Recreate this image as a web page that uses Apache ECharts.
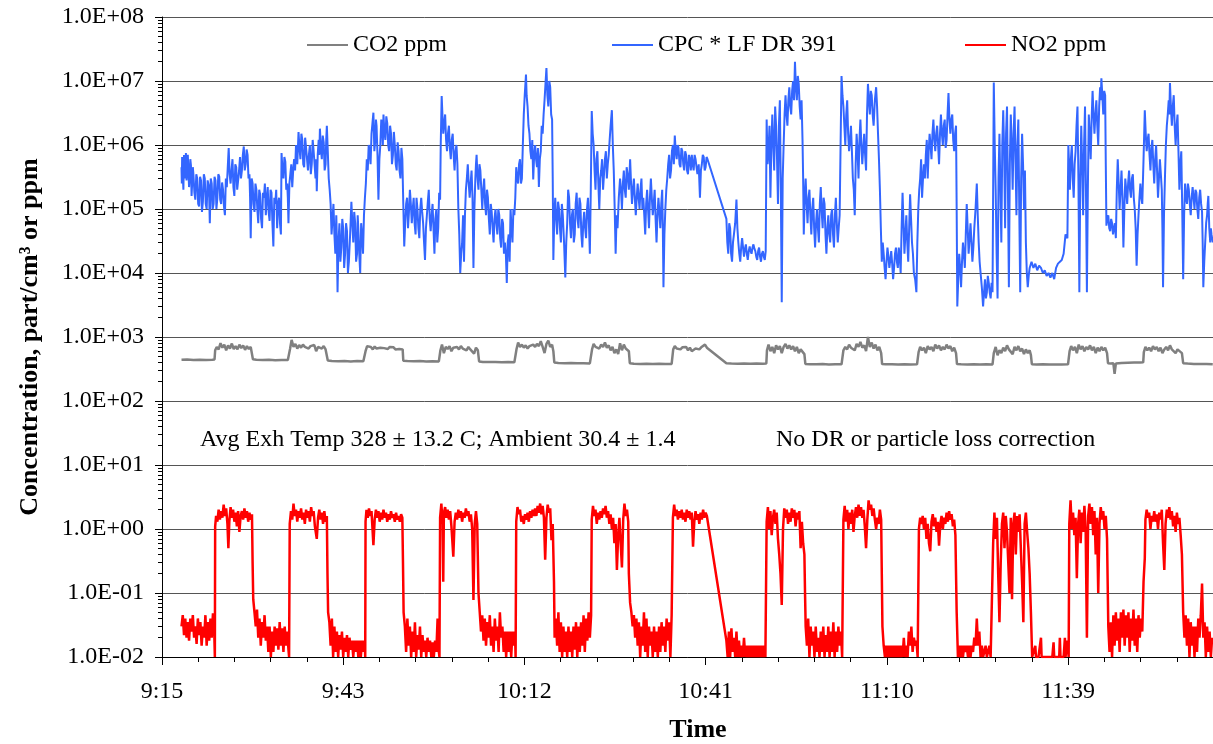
<!DOCTYPE html>
<html><head><meta charset="utf-8">
<script src="https://cdn.jsdelivr.net/npm/echarts@6/dist/echarts.min.js"></script>
<style>html,body{margin:0;padding:0;background:#fff}#c{width:1213px;height:744px}</style>
</head><body><div id="c"></div>
<script>
// ---- axis tick labels ----
const xTickLabels = ['9:15','9:43','10:12','10:41','11:10','11:39'];
const xMajorStep = 28.8;      // minutes between labelled ticks
const xMax = 167.04;          // minutes after 9:15 at right edge
const yTickLabels = ['1.0E-02','1.0E-01','1.0E+00','1.0E+01','1.0E+02','1.0E+03','1.0E+04','1.0E+05','1.0E+06','1.0E+07','1.0E+08'];
const seriesNames = ['CO2 ppm','CPC * LF DR 391','NO2 ppm'];

// ---- data: [minutes after 9:15, value] ----
const co2 = [[3.1,440],[4.0,445],[5.0,438],[6.0,442],[7.0,436],[8.0,440],[8.35,445],[8.45,620],
[8.7,700],[9.0,640],[9.3,800],[9.6,680],[9.9,760],[10.2,620],[10.5,740],[10.8,660],[11.1,790],[11.4,650],[11.7,720],[12.0,640],[12.3,760],[12.6,670],[12.9,740],[13.2,630],[13.5,720],[13.8,650],[14.1,700],[14.35,660],[14.45,450],
[15.0,440],[16.0,436],[17.0,440],[18.0,434],[19.0,438],[20.0,436],[20.25,440],[20.35,650],
[20.6,900],[20.9,700],[21.2,780],[21.5,660],[21.8,750],[22.1,680],[22.4,760],[22.7,700],[23.0,740],[23.3,660],[23.6,720],[23.9,680],[24.2,750],[24.5,600],[24.8,700],[25.1,740],[25.4,660],[25.7,720],[26.0,640],[26.25,680],[26.35,430],
[27.0,422],[28.0,418],[29.0,420],[30.0,416],[31.0,420],[32.0,418],[32.25,422],[32.35,600],
[32.6,720],[32.9,680],[33.2,700],[33.5,640],[33.8,710],[34.1,660],[34.4,700],[34.7,680],[35.0,720],[35.3,670],[35.6,690],[35.9,650],[36.2,700],[36.5,660],[36.8,690],[37.1,640],[37.4,680],[37.7,650],[38.0,670],[38.25,640],[38.35,425],
[39.0,420],[40.0,417],[41.0,420],[42.0,415],[43.0,418],[44.0,416],[44.15,420],[44.25,620],
[44.5,760],[44.8,560],[45.1,700],[45.4,650],[45.7,720],[46.0,600],[46.3,680],[46.6,650],[46.9,700],[47.2,640],[47.5,720],[47.8,660],[48.1,690],[48.4,620],[48.7,700],[49.0,640],[49.3,670],[49.6,550],[49.9,680],[50.2,620],[50.4,415],
[51.0,408],[52.0,405],[53.0,408],[54.0,403],[55.0,406],[56.0,402],[56.25,406],[56.35,650],
[56.6,820],[56.9,700],[57.2,760],[57.5,680],[57.8,740],[58.1,660],[58.4,720],[58.7,680],[59.0,760],[59.3,700],[59.6,780],[59.9,720],[60.2,860],[60.5,700],[60.8,560],[61.1,780],[61.4,880],[61.7,700],[62.0,760],[62.2,600],[62.35,400],
[63.0,392],[64.0,390],[65.0,393],[66.0,388],[67.0,390],[68.0,387],[68.25,392],[68.35,640],
[68.6,780],[68.9,700],[69.2,740],[69.5,660],[69.8,760],[70.1,700],[70.4,820],[70.7,680],[71.0,740],[71.3,620],[71.6,700],[71.9,560],[72.2,640],[72.5,540],[72.8,800],[73.1,620],[73.4,760],[73.7,660],[74.0,700],[74.2,600],[74.35,390],
[75.0,382],[76.0,380],[77.0,383],[78.0,379],[79.0,381],[80.0,378],[81.0,380],[81.15,384],[81.25,640],
[81.5,720],[81.8,660],[82.1,700],[82.4,640],[82.7,690],[83.0,650],[83.3,700],[83.6,620],[83.9,680],[84.2,600],[84.5,560],[84.8,660],[85.1,700],[85.4,640],[85.7,690],[86.0,660],[86.3,760],[86.6,680],[86.8,700],
[89.7,388],[90.5,385],[91.5,383],[92.5,386],[93.5,382],[94.5,385],[95.5,383],[96.05,386],[96.15,620],
[96.4,760],[96.7,600],[97.0,700],[97.3,560],[97.6,740],[97.9,640],[98.2,720],[98.5,560],[98.8,700],[99.1,780],[99.4,660],[99.7,740],[100.0,640],[100.3,720],[100.6,600],[100.9,700],[101.2,560],[101.5,640],[101.8,600],[102.1,540],[102.25,380],
[103.0,376],[104.0,374],[105.0,377],[106.0,373],[107.0,376],[108.0,374],[108.2,378],[108.3,620],
[108.6,700],[108.9,640],[109.2,760],[109.5,680],[109.8,720],[110.1,620],[110.4,780],[110.7,700],[111.0,840],[111.3,680],[111.6,740],[111.9,600],[112.2,1000],[112.5,700],[112.8,820],[113.1,660],[113.4,760],[113.7,620],[114.0,700],[114.3,560],[114.45,378],
[115.0,374],[116.0,376],[117.0,373],[118.0,375],[119.0,372],[120.0,375],[120.15,378],[120.25,580],
[120.5,700],[120.8,620],[121.1,680],[121.4,560],[121.7,720],[122.0,640],[122.3,700],[122.6,600],[122.9,760],[123.2,660],[123.5,740],[123.8,620],[124.1,700],[124.4,640],[124.7,760],[125.0,660],[125.3,720],[125.6,600],[125.9,680],[126.2,560],[126.35,378],
[127.0,374],[128.0,373],[129.0,376],[130.0,372],[131.0,374],[132.0,373],[132.1,376],[132.2,560],
[132.5,700],[132.8,520],[133.1,620],[133.4,560],[133.7,680],[134.0,600],[134.3,740],[134.6,640],[134.9,680],[135.2,540],[135.5,700],[135.8,620],[136.1,720],[136.4,600],[136.7,660],[137.0,540],[137.3,640],[137.6,560],[137.9,620],[138.1,520],[138.25,376],
[139.0,372],[140.0,374],[141.0,371],[142.0,373],[143.0,372],[144.0,375],[144.15,378],[144.25,600],
[144.5,720],[144.8,620],[145.1,700],[145.4,560],[145.7,760],[146.0,640],[146.3,720],[146.6,600],[146.9,700],[147.2,640],[147.5,740],[147.8,620],[148.1,700],[148.4,560],[148.7,680],[149.0,600],[149.3,700],[149.6,620],[149.9,680],[150.2,560],[150.35,390],
[150.8,385],[151.2,390],[151.4,265],[151.6,385],[152.5,392],[153.5,395],[154.5,398],[155.5,400],[155.95,402],[156.05,580],
[156.3,700],[156.6,620],[156.9,680],[157.2,600],[157.5,720],[157.8,640],[158.1,700],[158.4,600],[158.7,680],[159.0,560],[159.3,640],[159.6,700],[159.9,620],[160.2,740],[160.5,640],[160.8,680],[161.1,560],[161.4,640],[161.7,600],[162.1,560],[162.3,390],
[163.0,384],[164.0,380],[165.0,378],[166.0,380],[167.0,376]];

const cpc = [[3.1,4.5e5],[3.15,2.5e5],[3.2,6.5e5],[3.3,3.5e5],[3.4,2.0e5],[3.5,7.0e5],[3.6,5.5e5],[3.7,3.0e5],[3.8,7.5e5],[3.9,2.8e5],[4.0,4.0e5],[4.1,7.0e5],[4.2,6.8e5],[4.3,2.2e5],[4.4,3.2e5],[4.5,6.0e5],[4.6,4.8e5],[4.7,1.6e5],[4.8,2.6e5],[4.9,4.5e5],[5.0,3.4e5],[5.15,1.8e5],[5.3,1.4e5],[5.45,3.5e5],[5.6,3.0e5],[5.75,1.2e5],[5.9,1.1e5],[6.05,3.2e5],[6.2,2.8e5],[6.35,9.0e4],[6.5,1.3e5],[6.65,3.5e5],[6.8,3.0e5],[6.95,1.2e5],[7.1,1.0e5],[7.25,2.8e5],[7.4,2.4e5],[7.5,1.5e5],[7.6,6.0e4],[7.75,3.0e5],[7.9,2.5e5],[8.05,1.0e5],[8.2,1.2e5],[8.35,3.2e5],[8.5,2.8e5],[8.65,1.0e5],[8.8,1.5e5],[8.95,3.5e5],[9.1,3.2e5],[9.25,1.4e5],[9.4,1.2e5],[9.55,2.6e5],[9.7,2.0e5],[9.85,1.1e5],[10.0,8.0e4],[10.15,3.0e5],[10.3,2.2e5],[10.45,4.5e5],[10.6,9.0e5],[10.75,3.5e5],[10.9,2.5e5],[11.05,4.0e5],[11.2,6.0e5],[11.35,2.2e5],[11.5,1.6e5],[11.65,5.0e5],[11.8,4.5e5],[11.95,2.0e5],[12.1,2.8e5],[12.25,4.0e5],[12.4,6.5e5],[12.55,3.0e5],[12.7,4.0e5],[12.85,7.0e5],[13.0,9.5e5],[13.15,4.0e5],[13.3,5.0e5],[13.45,8.5e5],[13.6,7.0e5],[13.75,3.0e5],[13.9,3.5e5],[14.0,1.5e5],[14.1,3.5e4],[14.25,3.0e5],[14.4,2.5e5],[14.55,1.2e5],[14.7,9.0e4],[14.85,2.5e5],[15.0,2.0e5],[15.15,1.0e5],[15.3,6.0e4],[15.45,2.0e5],[15.6,1.7e5],[15.75,7.0e4],[15.9,5.0e4],[16.05,1.8e5],[16.2,1.5e5],[16.35,2.5e5],[16.5,8.0e4],[16.65,1.5e5],[16.8,2.2e5],[16.95,9.0e4],[17.1,6.5e4],[17.25,2.0e5],[17.4,1.8e5],[17.55,6.0e4],[17.7,2.6e4],[17.85,1.5e5],[18.0,1.2e5],[18.15,2.0e5],[18.3,5.0e4],[18.45,1.2e5],[18.6,1.5e5],[18.75,6.0e4],[18.9,4.0e4],
[19.0,7.5e5],[19.15,4.0e5],[19.3,3.0e5],[19.45,6.5e5],[19.6,5.5e5],[19.75,2.0e5],[19.9,2.5e5],[20.0,1.5e5],[20.1,6.0e4],[20.25,2.5e5],[20.4,3.5e5],[20.55,5.0e5],[20.7,2.2e5],[20.85,4.0e5],[21.0,6.0e5],[21.15,4.0e5],[21.3,1.0e6],[21.5,5.0e5],[21.7,1.6e6],[21.85,9.0e5],[22.0,6.0e5],[22.15,1.5e6],[22.3,1.2e6],[22.45,5.0e5],[22.6,4.5e5],[22.75,1.3e6],[22.9,9.0e5],[23.05,6.0e5],[23.2,4.0e5],[23.35,7.0e5],[23.5,1.0e6],[23.65,3.5e5],[23.8,5.0e5],[23.95,1.2e6],[24.1,8.0e5],[24.25,5.0e5],[24.4,3.0e5],[24.5,6.0e5],[24.6,1.9e5],[24.75,7.0e5],[24.9,1.2e6],[25.0,7.0e5],[25.1,1.8e6],[25.25,9.0e5],[25.4,6.0e5],[25.55,1.4e6],[25.7,1.1e6],[25.85,4.0e5],[26.0,5.0e5],[26.1,1.2e6],[26.2,2.0e6],[26.35,8.0e5],[26.5,3.0e5],[26.65,2.0e5],[26.8,1.2e5],[26.95,4.0e4],[27.1,7.0e4],[27.25,1.2e5],[27.4,4.0e4],[27.55,2.0e4],[27.7,8.0e4],[27.8,3.0e4],[27.9,5.0e3],[28.05,3.0e4],[28.2,6.0e4],[28.35,1.5e4],[28.5,2.5e4],[28.65,7.0e4],[28.8,5.0e4],[28.95,1.2e4],[29.1,2.0e4],[29.25,6.0e4],[29.4,4.5e4],[29.55,1.0e4],[29.7,1.5e4],[29.9,4.0e4],[30.1,1.3e5],[30.25,6.0e4],[30.4,3.0e4],[30.55,9.0e4],[30.7,6.0e4],[30.85,1.5e4],[31.0,2.0e4],[31.1,8.0e4],[31.2,5.0e4],[31.35,2.0e4],[31.5,1.0e4],[31.65,6.0e4],[31.8,4.0e4],[31.95,2.0e4],[32.1,8.0e4],[32.25,1.5e5],
[32.4,2.5e5],[32.55,6.0e5],[32.7,4.0e5],[32.85,1.0e6],[33.0,8.0e5],[33.15,5.0e5],[33.3,1.5e6],[33.45,2.2e6],[33.6,3.2e6],[33.75,8.0e5],[33.9,1.2e6],[34.0,2.5e6],[34.1,2.0e6],[34.25,7.0e5],[34.4,1.4e5],[34.55,6.0e5],[34.7,1.0e6],[34.85,2.5e6],[35.0,2.0e6],[35.1,1.0e6],[35.2,3.0e6],[35.35,1.6e6],[35.5,1.2e6],[35.65,2.8e6],[35.8,2.2e6],[35.95,1.0e6],[36.1,8.0e5],[36.25,2.0e6],[36.4,1.5e6],[36.55,5.0e5],[36.7,7.0e5],[36.85,1.6e6],[37.0,1.0e6],[37.15,5.0e5],[37.3,4.0e5],[37.45,1.1e6],[37.6,8.0e5],[37.75,4.0e5],[37.9,3.0e5],[38.05,9.0e5],[38.2,6.0e5],[38.35,1.2e5],[38.5,2.6e4],[38.65,6.0e4],[38.8,1.2e5],[38.95,1.5e5],[39.1,5.0e4],[39.25,9.0e4],[39.4,2.0e5],[39.55,1.2e5],[39.7,6.0e4],[39.85,1.0e5],[40.0,1.5e5],[40.15,6.0e4],[40.3,4.0e4],[40.45,1.5e5],[40.6,1.0e5],[40.75,5.0e4],[40.9,3.5e4],[41.05,1.0e5],[41.2,1.5e5],[41.35,9.0e4],[41.5,6.0e4],[41.65,3.0e4],[41.8,1.6e4],[41.95,5.0e4],[42.1,8.0e4],[42.25,1.3e5],[42.4,2.0e5],[42.55,7.0e4],[42.7,4.5e4],[42.85,8.0e4],[43.0,1.2e5],[43.15,5.0e4],[43.3,2.0e4],[43.45,7.0e4],[43.6,1.0e5],[43.75,3.0e4],[43.9,5.0e4],[44.05,1.8e5],[44.2,1.4e5],[44.3,1.0e6],
[44.45,5.8e6],[44.6,2.5e6],[44.7,1.5e6],[44.85,2.2e6],[45.0,3.0e6],[45.15,1.2e6],[45.3,8.0e5],[45.45,1.5e6],[45.6,2.0e6],[45.75,9.0e5],[45.9,6.0e5],[46.05,1.2e6],[46.2,1.5e6],[46.35,7.0e5],[46.5,4.0e5],[46.65,8.0e5],[46.8,1.0e6],[46.95,5.0e5],[47.1,1.0e5],[47.25,4.0e4],[47.4,1.0e4],[47.55,2.0e4],[47.7,3.0e4],[47.85,8.0e4],[48.0,1.5e4],[48.15,8.0e4],[48.3,2.0e5],[48.45,3.0e5],[48.6,5.0e5],[48.75,2.5e5],[48.9,1.5e5],[49.05,2.5e5],[49.2,4.0e5],[49.35,1.5e5],[49.5,1.2e4],[49.65,1.0e5],[49.8,3.0e5],[49.9,5.0e5],[50.0,7.0e5],[50.15,3.0e5],[50.3,2.0e5],[50.45,5.0e5],[50.6,4.0e5],[50.75,2.0e5],[50.9,1.0e5],[51.05,2.0e5],[51.2,3.0e5],[51.35,1.2e5],[51.5,8.0e4],[51.65,2.0e5],[51.8,1.5e5],[51.95,7.0e4],[52.1,4.0e4],[52.25,1.2e5],[52.4,9.0e4],[52.55,5.0e4],[52.7,3.0e4],[52.85,7.0e4],[53.0,1.0e5],[53.15,6.0e4],[53.3,4.0e4],[53.45,1.0e5],[53.6,8.0e4],[53.75,3.5e4],[53.9,2.5e4],[54.05,7.0e4],[54.2,6.0e4],[54.35,2.0e4],[54.5,3.0e4],[54.65,2.0e4],[54.8,7.0e3],[54.95,3.0e4],[55.1,4.0e4],[55.25,1.5e4],[55.4,1.0e5],[55.55,5.0e4],[55.7,3.0e4],[55.85,1.0e5],[56.0,8.0e4],[56.15,1.5e5],
[56.3,4.5e5],[56.45,3.0e5],[56.6,2.5e5],[56.75,5.0e5],[56.9,6.0e5],[57.05,2.5e5],[57.2,3.0e5],[57.35,1.0e6],[57.5,3.0e6],[57.65,6.0e6],[57.85,1.26e7],[57.95,6.0e6],[58.1,4.0e6],[58.25,2.0e6],[58.4,1.5e6],[58.55,8.0e5],[58.7,6.0e5],[58.85,1.2e6],[59.0,2.9e5],[59.15,7.0e5],[59.3,1.0e6],[59.45,6.0e5],[59.6,4.5e5],[59.75,9.0e5],[59.9,2.2e5],[60.05,6.0e5],[60.2,8.0e5],[60.35,2.0e6],[60.5,1.5e6],[60.65,3.0e6],[60.8,5.0e6],[60.95,9.0e6],[61.1,1.6e7],[61.25,6.0e6],[61.4,4.0e6],[61.55,1.0e7],[61.7,8.0e6],[61.85,3.0e6],[62.0,2.5e6],[62.1,3.0e5],[62.2,1.6e4],[62.35,8.0e4],[62.5,1.5e5],[62.65,7.0e4],[62.8,4.0e4],[62.95,1.3e5],[63.1,1.0e5],[63.25,5.0e4],[63.4,3.0e4],[63.55,1.2e5],[63.7,8.0e4],[63.9,3.0e4],[64.1,8.5e3],[64.25,3.0e4],[64.4,6.0e4],[64.55,2.0e5],[64.7,1.5e5],[64.85,6.0e4],[65.0,3.5e4],[65.15,8.0e4],[65.3,1.0e5],[65.45,3.0e4],[65.6,4.0e4],[65.75,1.2e5],[65.9,1.8e5],[66.05,7.0e4],[66.2,5.0e4],[66.35,1.5e5],[66.5,1.2e5],[66.65,4.0e4],[66.8,2.5e4],[66.95,6.0e4],[67.1,9.0e4],[67.25,5.0e4],[67.4,3.5e4],[67.55,1.0e5],[67.7,1.5e5],[67.85,6.0e4],[68.0,2.0e4],[68.15,2.0e5],
[68.3,3.4e6],[68.45,1.5e6],[68.6,1.0e6],[68.75,4.0e5],[68.9,2.0e5],[69.05,6.0e5],[69.2,8.0e5],[69.35,2.5e5],[69.5,1.0e5],[69.65,3.0e5],[69.8,4.0e5],[69.95,6.0e5],[70.1,2.0e5],[70.25,3.5e5],[70.4,6.0e5],[70.55,8.0e5],[70.7,3.0e5],[70.85,5.0e5],[71.0,7.0e5],[71.15,1.2e6],[71.3,2.0e6],[71.5,3.5e6],[71.65,1.0e6],[71.8,4.0e5],[71.95,1.0e5],[72.1,2.0e4],[72.25,8.0e4],[72.4,5.0e4],[72.6,1.5e5],[72.8,3.0e5],[72.95,2.0e5],[73.1,1.0e5],[73.25,2.5e5],[73.4,4.0e5],[73.55,2.0e5],[73.7,1.5e5],[73.85,4.5e5],[74.0,3.5e5],[74.2,2.0e5],[74.4,6.0e5],[74.55,2.5e5],[74.7,1.2e5],[74.85,2.0e5],[75.0,3.0e5],[75.15,1.5e5],[75.3,8.0e4],[75.45,1.5e5],[75.6,2.5e5],[75.75,1.5e5],[75.9,1.0e5],[76.05,2.0e5],[76.2,3.0e5],[76.35,1.0e5],[76.5,1.5e5],[76.65,8.0e4],[76.8,4.0e4],[76.95,1.2e5],[77.1,2.0e5],[77.25,1.0e5],[77.4,5.0e4],[77.55,1.5e5],[77.7,3.0e5],[77.85,1.5e5],[78.0,8.0e4],[78.15,1.2e5],[78.3,2.0e5],[78.45,7.0e4],[78.6,3.0e4],[78.75,8.0e4],[78.9,1.5e5],[79.05,9.0e4],[79.2,5.0e4],[79.35,1.2e5],[79.5,2.0e5],[79.6,5.0e4],[79.7,6.0e3],[79.85,4.0e4],[80.0,1.0e5],[80.15,2.0e5],
[80.3,3.0e5],[80.45,5.0e5],[80.6,7.0e5],[80.75,3.0e5],[80.9,4.0e5],[81.05,8.0e5],[81.2,1.0e6],[81.35,5.0e5],[81.5,1.4e6],[81.65,8.0e5],[81.8,6.0e5],[81.95,1.0e6],[82.1,9.0e5],[82.25,5.0e5],[82.4,4.5e5],[82.55,9.0e5],[82.7,8.0e5],[82.85,5.0e5],[83.0,4.0e5],[83.15,8.0e5],[83.3,7.0e5],[83.45,4.0e5],[83.6,3.5e5],[83.75,7.0e5],[83.9,6.0e5],[84.05,4.0e5],[84.2,7.0e5],[84.35,5.0e5],[84.5,4.0e5],[84.65,7.0e5],[84.8,6.0e5],[84.95,4.5e5],[85.1,3.5e5],[85.3,5.0e5],[85.5,1.5e5],[85.65,4.0e5],[85.8,5.0e5],[85.95,7.0e5],[86.1,6.5e5],[86.25,4.0e5],[86.4,4.5e5],[86.55,6.5e5],[86.7,6.0e5],
[89.7,7.0e4],[89.85,3.0e4],[90.0,2.0e4],[90.15,6.0e4],[90.3,5.0e4],[90.45,2.0e4],[90.6,1.5e4],[90.75,3.0e4],[90.9,4.0e4],[91.1,6.0e4],[91.3,1.4e5],[91.45,5.0e4],[91.6,3.0e4],[91.75,2.0e4],[91.9,1.5e4],[92.05,2.5e4],[92.2,3.5e4],[92.35,2.5e4],[92.5,1.8e4],[92.65,2.4e4],[92.8,2.8e4],[92.95,2.0e4],[93.1,1.6e4],[93.25,2.2e4],[93.4,2.6e4],[93.55,2.2e4],[93.7,2.0e4],[93.85,2.5e4],[94.0,2.8e4],[94.15,2.4e4],[94.3,2.2e4],[94.45,1.8e4],[94.6,1.6e4],[94.75,2.2e4],[94.9,2.5e4],[95.05,1.8e4],[95.2,1.5e4],[95.35,2.0e4],[95.5,2.2e4],[95.65,1.8e4],[95.8,1.6e4],[95.95,2.2e4],
[96.1,2.5e6],[96.25,5.0e5],[96.4,8.0e5],[96.55,2.0e6],[96.7,1.5e5],[96.85,1.0e6],[97.0,3.0e6],[97.15,1.0e6],[97.3,4.0e5],[97.45,4.0e6],[97.6,2.0e6],[97.75,6.0e5],[97.9,1.2e5],[98.05,2.0e6],[98.2,5.0e6],[98.35,2.0e5],[98.5,3.5e3],[98.65,3.0e5],[98.8,1.0e6],[98.95,3.0e6],[99.1,6.0e6],[99.25,3.0e6],[99.4,2.0e6],[99.55,5.0e6],[99.7,8.0e6],[99.85,4.0e6],[100.0,3.0e6],[100.15,7.0e6],[100.3,1.0e7],[100.45,5.0e6],[100.6,2.0e7],[100.75,8.0e6],[100.9,5.0e6],[101.05,1.2e7],[101.2,9.0e6],[101.35,4.0e6],[101.5,2.5e6],[101.65,5.0e6],[101.8,1.2e6],[101.9,3.0e5],
[102.0,4.0e4],[102.15,1.5e5],[102.3,3.0e5],[102.45,1.2e5],[102.6,6.0e4],[102.75,1.5e5],[102.9,2.0e5],[103.05,8.0e4],[103.2,4.0e4],[103.35,1.0e5],[103.5,1.5e5],[103.65,5.0e4],[103.8,2.5e4],[103.95,6.0e4],[104.1,1.0e5],[104.25,5.0e4],[104.4,3.0e4],[104.55,1.2e5],[104.7,2.2e5],[104.85,9.0e4],[105.0,5.0e4],[105.15,1.5e5],[105.3,1.2e5],[105.45,4.0e4],[105.6,2.0e4],[105.75,5.0e4],[105.9,8.0e4],[106.05,4.0e4],[106.2,3.0e4],[106.35,8.0e4],[106.5,1.0e5],[106.65,4.0e4],[106.8,2.5e4],[106.95,8.0e4],[107.1,1.5e5],[107.25,6.0e4],[107.4,3.0e4],[107.55,5.0e4],[107.7,8.0e4],[107.85,1.0e6],
[108.0,1.2e7],[108.15,6.0e6],[108.3,4.0e6],[108.45,2.0e6],[108.6,1.0e6],[108.75,3.0e6],[108.9,5.0e6],[109.05,1.5e6],[109.2,8.0e5],[109.35,1.2e6],[109.5,2.0e6],[109.65,8.0e5],[109.8,3.0e5],[109.95,2.0e5],[110.1,8.0e4],[110.25,5.0e5],[110.4,1.5e6],[110.55,8.0e5],[110.7,3.0e5],[110.85,1.2e6],[111.0,2.5e6],[111.15,1.0e6],[111.3,5.0e5],[111.45,9.0e5],[111.6,1.5e6],[111.75,7.0e5],[111.9,4.0e5],[112.05,3.0e6],[112.2,9.0e6],[112.35,5.0e6],[112.5,3.0e6],[112.65,7.0e6],[112.8,6.0e6],[112.95,3.0e6],[113.1,2.0e6],[113.3,5.0e6],[113.5,8.0e6],[113.65,4.0e6],[113.8,1.5e6],[113.95,6.0e5],[114.1,2.0e5],[114.25,5.0e4],
[114.4,1.5e4],[114.55,3.0e4],[114.7,2.0e4],[114.85,1.2e4],[115.0,8.0e3],[115.15,1.5e4],[115.3,2.5e4],[115.45,1.8e4],[115.6,1.2e4],[115.75,1.6e4],[115.9,2.2e4],[116.05,1.4e4],[116.2,8.0e3],[116.35,1.2e4],[116.5,2.0e4],[116.65,2.5e4],[116.8,1.5e4],[116.95,1.2e4],[117.1,2.5e4],[117.25,1.8e4],[117.4,1.0e4],[117.55,5.0e4],[117.7,1.8e5],[117.85,6.0e4],[118.0,2.0e4],[118.15,4.0e4],[118.3,8.0e4],[118.45,3.0e4],[118.6,1.5e4],[118.75,5.0e4],[118.9,1.7e5],[119.05,7.0e4],[119.2,3.0e4],[119.35,2.0e4],[119.5,1.0e4],[119.7,8.0e3],[119.9,5.0e3],[120.05,3.0e4],
[120.2,1.0e5],[120.35,2.0e5],[120.5,3.0e5],[120.65,6.0e5],[120.8,1.5e5],[120.95,3.0e5],[121.1,5.0e5],[121.25,3.0e5],[121.4,7.0e5],[121.55,1.2e6],[121.7,3.0e5],[121.85,8.0e5],[122.0,1.5e6],[122.15,1.0e6],[122.3,6.0e5],[122.45,1.5e6],[122.6,2.5e6],[122.75,1.2e6],[122.9,8.0e5],[123.05,1.5e6],[123.2,2.0e6],[123.35,1.0e6],[123.5,5.0e5],[123.65,1.5e6],[123.8,3.0e6],[123.95,1.5e6],[124.1,1.0e6],[124.25,2.0e6],[124.4,2.5e6],[124.55,9.0e5],[124.7,1.2e6],[124.85,3.0e6],[125.0,6.5e6],[125.15,2.5e6],[125.3,1.5e6],[125.45,2.5e6],[125.6,3.0e6],[125.75,1.2e6],[125.9,8.0e5],[126.05,1.5e6],[126.2,2.0e6],[126.3,1.0e5],
[126.4,3.0e3],[126.55,8.0e3],[126.7,2.0e4],[126.85,1.2e4],[127.0,6.0e3],[127.15,1.5e4],[127.3,3.0e4],[127.45,2.0e4],[127.6,1.2e4],[127.75,4.0e4],[127.9,1.2e5],[128.05,5.0e4],[128.2,2.0e4],[128.35,3.5e4],[128.5,6.0e4],[128.65,3.0e4],[128.8,1.5e4],[128.95,2.5e4],[129.1,5.0e4],[129.3,1.0e5],[129.5,2.5e5],[129.65,8.0e4],[129.8,3.0e4],[129.95,1.5e4],[130.1,1.0e4],[130.3,6.0e3],[130.5,3.0e3],[130.65,5.0e3],[130.8,8.0e3],[130.95,4.0e3],[131.1,5.0e3],[131.25,9.0e3],[131.4,7.0e3],[131.55,5.0e3],[131.7,4.0e3],[131.85,7.0e3],[132.0,5.0e3],
[132.2,9.5e6],[132.35,1.0e6],[132.5,2.0e5],[132.65,2.0e4],[132.8,4.0e3],[132.95,3.0e5],[133.1,1.5e6],[133.25,2.0e5],[133.4,3.0e4],[133.55,1.0e6],[133.7,3.5e6],[133.85,8.0e5],[134.0,5.0e4],[134.15,1.5e6],[134.3,4.0e6],[134.45,2.0e5],[134.6,6.0e3],[134.75,5.0e5],[134.9,3.0e6],[135.05,1.0e6],[135.2,2.0e5],[135.35,1.5e6],[135.5,4.0e6],[135.65,6.0e5],[135.8,8.0e4],[135.95,1.0e6],[136.1,2.5e6],[136.25,1.0e5],[136.4,5.0e3],[136.55,3.0e5],[136.7,1.5e6],[136.85,5.0e5],[137.0,1.0e5],[137.15,4.0e5],[137.3,3.0e4],[137.45,1.0e4],[137.6,6.0e3],[137.75,9.0e3],
[137.9,1.2e4],[138.2,1.5e4],[138.5,1.2e4],[138.8,1.4e4],[139.1,1.1e4],[139.4,1.3e4],[139.7,1.2e4],[140.0,1.0e4],[140.3,1.1e4],[140.6,9.0e3],[140.9,1.0e4],[141.2,8.5e3],[141.5,1.0e4],[141.8,8.0e3],[142.1,1.2e4],[142.4,1.4e4],[142.7,1.5e4],[143.0,1.6e4],[143.3,2.0e4],[143.6,4.0e4],[143.9,3.5e4],
[144.05,1.0e6],[144.2,4.0e5],[144.3,2.0e5],[144.45,6.0e5],[144.6,1.0e6],[144.75,3.0e5],[144.9,1.5e5],[145.05,5.0e5],[145.2,8.0e5],[145.35,2.0e6],[145.5,4.0e6],[145.65,3.0e5],[145.8,5.0e3],[145.95,3.0e5],[146.1,2.0e6],[146.25,5.0e5],[146.4,8.0e4],[146.55,1.0e6],[146.7,4.0e6],[146.85,2.0e5],[147.0,5.0e3],[147.15,2.0e5],[147.3,3.0e6],[147.45,1.5e6],[147.6,6.0e5],[147.75,2.5e6],[147.9,7.0e6],[148.05,3.0e6],[148.2,1.5e6],[148.35,3.0e6],[148.5,5.0e6],[148.65,2.0e6],[148.8,1.0e6],[148.95,4.0e6],[149.1,8.0e6],[149.2,5.0e6],[149.3,1.1e7],[149.45,6.0e6],[149.6,3.0e6],[149.75,7.0e6],[149.9,6.0e6],[150.0,5.0e5],
[150.1,5.5e4],[150.25,7.0e4],[150.4,8.0e4],[150.55,5.0e4],[150.7,4.5e4],[150.85,7.0e4],[151.0,6.0e4],[151.15,4.0e4],[151.3,5.0e4],[151.45,6.0e4],[151.6,3.5e4],[151.75,2.0e5],[151.9,6.0e5],[152.05,2.5e5],[152.2,1.0e5],[152.35,2.0e5],[152.5,4.0e5],[152.65,1.5e5],[152.8,2.5e4],[152.95,1.0e5],[153.1,3.0e5],[153.25,2.0e5],[153.4,1.2e5],[153.55,2.5e5],[153.7,4.0e5],[153.85,2.0e5],[154.0,1.5e5],[154.15,3.0e5],[154.3,3.5e5],[154.45,1.5e5],[154.6,1.0e5],[154.75,5.0e4],[154.9,1.3e4],[155.05,4.0e4],[155.2,8.0e4],[155.35,1.5e5],[155.5,2.5e5],[155.65,1.5e5],[155.8,1.2e5],[156.0,6.0e5],
[156.2,3.5e6],[156.35,1.5e6],[156.5,8.0e5],[156.65,1.2e6],[156.8,1.5e6],[156.95,7.0e5],[157.1,4.0e5],[157.25,9.0e5],[157.4,1.2e6],[157.55,5.0e5],[157.7,2.5e5],[157.85,6.0e5],[158.0,1.0e6],[158.15,4.0e5],[158.3,1.5e5],[158.45,3.0e5],[158.6,6.0e5],[158.75,3.5e5],[158.9,2.0e5],[159.0,5.0e4],[159.1,6.0e3],[159.25,8.0e4],[159.4,3.0e5],[159.55,1.0e6],[159.7,2.0e6],[159.85,3.0e6],[160.0,5.0e6],[160.1,3.0e6],[160.2,9.3e6],[160.35,4.0e6],[160.5,2.0e6],[160.65,4.0e6],[160.8,6.0e6],[160.95,2.0e6],[161.1,1.0e6],[161.25,2.0e6],[161.4,3.0e6],[161.55,8.0e5],[161.7,2.0e5],[161.85,5.0e5],[162.0,8.0e5],[162.15,1.0e5],
[162.3,8.0e3],[162.45,8.0e4],[162.6,2.5e5],[162.75,1.5e5],[162.9,1.2e5],[163.05,2.5e5],[163.2,2.0e5],[163.35,1.2e5],[163.5,8.0e4],[163.65,1.5e5],[163.8,2.2e5],[163.95,1.5e5],[164.1,1.0e5],[164.25,2.0e5],[164.4,1.8e5],[164.55,1.0e5],[164.7,7.0e4],[164.85,1.5e5],[165.0,2.0e5],[165.15,1.2e5],[165.3,9.0e4],[165.4,3.0e4],[165.5,6.0e3],[165.65,1.5e4],[165.8,3.0e4],[165.95,6.0e4],[166.1,8.0e4],[166.2,1.2e5],[166.3,1.6e5],[166.45,5.0e4],[166.6,3.0e4],[166.7,5.0e4],[166.8,4.0e4],[166.9,3.5e4],[167.0,3.0e4]];

const no2 = [[3.1,0.03],[3.3,0.045],[3.5,0.022],[3.7,0.04],[3.9,0.02],[4.1,0.035],[4.3,0.018],[4.5,0.04],[4.7,0.025],[4.9,0.045],[5.1,0.02],[5.3,0.03],[5.5,0.016],[5.7,0.04],[5.9,0.022],[6.1,0.035],[6.3,0.015],[6.5,0.03],[6.7,0.02],[6.9,0.045],[7.1,0.015],[7.3,0.035],[7.5,0.018],[7.7,0.04],[7.9,0.02],[8.1,0.048],[8.3,0.025],[8.4,0.01],[8.45,1.1],
[8.6,1.6],[8.8,1.3],[9.0,2.0],[9.2,1.4],[9.4,1.9],[9.6,1.5],[9.8,2.4],[10.0,1.6],[10.2,2.1],[10.4,1.2],[10.55,0.5],[10.7,1.3],[10.9,2.2],[11.1,1.5],[11.3,2.0],[11.5,1.3],[11.7,1.8],[11.9,1.1],[12.1,1.9],[12.3,0.9],[12.5,1.6],[12.7,1.9],[12.9,1.4],[13.1,2.1],[13.3,1.5],[13.5,1.9],[13.7,1.3],[13.9,1.8],[14.1,1.4],[14.3,1.7],[14.4,0.3],[14.5,0.08],
[14.7,0.05],[14.9,0.03],[15.1,0.055],[15.3,0.02],[15.5,0.04],[15.7,0.015],[15.9,0.035],[16.1,0.02],[16.3,0.045],[16.5,0.018],[16.7,0.03],[16.9,0.012],[17.1,0.03],[17.3,0.01],[17.5,0.025],[17.7,0.012],[17.9,0.03],[18.1,0.015],[18.3,0.028],[18.5,0.013],[18.7,0.035],[18.9,0.015],[19.1,0.028],[19.3,0.012],[19.5,0.03],[19.7,0.015],[19.9,0.025],[20.1,0.013],[20.2,0.01],[20.3,1.2],
[20.5,1.9],[20.7,1.4],[20.9,2.5],[21.1,1.6],[21.3,2.0],[21.5,1.3],[21.7,1.9],[21.9,1.5],[22.1,2.1],[22.3,1.4],[22.5,1.8],[22.7,1.2],[22.9,2.0],[23.1,1.5],[23.3,1.9],[23.5,1.3],[23.7,2.2],[23.9,1.6],[24.1,1.9],[24.3,1.1],[24.6,0.7],[24.8,1.5],[25.0,2.0],[25.2,1.4],[25.4,1.8],[25.6,1.2],[25.8,1.9],[26.0,1.3],[26.2,1.6],[26.3,0.2],[26.4,0.05],
[26.6,0.035],[26.8,0.015],[27.0,0.04],[27.2,0.01],[27.4,0.03],[27.6,0.012],[27.8,0.025],[28.0,0.01],[28.2,0.022],[28.4,0.013],[28.6,0.025],[28.8,0.01],[29.0,0.02],[29.2,0.012],[29.4,0.022],[29.6,0.01],[29.8,0.02],[30.0,0.013],[30.2,0.018],[30.4,0.01],[30.6,0.018],[30.8,0.012],[31.0,0.018],[31.2,0.01],[31.4,0.018],[31.6,0.01],[31.8,0.018],[32.0,0.012],[32.2,0.018],[32.3,0.01],[32.35,1.3],
[32.5,2.0],[32.7,1.5],[32.9,2.1],[33.1,1.6],[33.3,1.9],[33.6,0.56],[33.8,1.4],[34.0,2.0],[34.2,1.5],[34.4,1.9],[34.6,1.3],[34.8,1.8],[35.0,1.4],[35.2,2.0],[35.4,1.5],[35.6,1.8],[35.8,1.3],[36.0,1.7],[36.2,1.4],[36.4,1.9],[36.6,1.5],[36.8,1.7],[37.0,1.3],[37.2,1.8],[37.4,1.4],[37.6,1.6],[37.8,1.3],[38.0,1.7],[38.2,1.5],[38.3,0.3],[38.4,0.05],
[38.6,0.03],[38.8,0.012],[39.0,0.04],[39.2,0.015],[39.4,0.03],[39.6,0.01],[39.8,0.025],[40.0,0.012],[40.2,0.035],[40.4,0.01],[40.6,0.022],[40.8,0.013],[41.0,0.03],[41.2,0.01],[41.4,0.022],[41.6,0.012],[41.8,0.018],[42.0,0.01],[42.2,0.02],[42.4,0.012],[42.6,0.018],[42.8,0.01],[43.0,0.017],[43.2,0.01],[43.4,0.018],[43.6,0.012],[43.8,0.04],[44.0,0.012],[44.1,0.01],[44.2,1.5],
[44.4,2.5],[44.6,1.2],[44.7,0.15],[44.8,1.8],[45.0,2.2],[45.2,1.5],[45.4,2.0],[45.6,1.4],[45.8,1.9],[46.0,1.1],[46.3,0.37],[46.5,1.3],[46.7,1.8],[46.9,1.4],[47.1,2.0],[47.3,1.5],[47.5,1.9],[47.7,1.3],[47.9,1.8],[48.1,1.5],[48.3,2.1],[48.5,1.6],[48.7,1.9],[48.9,1.3],[49.1,1.7],[49.3,1.0],[49.5,0.078],[49.7,1.2],[49.9,1.9],[50.1,1.2],[50.3,0.1],[50.5,0.05],
[50.7,0.025],[50.9,0.045],[51.1,0.018],[51.3,0.04],[51.5,0.015],[51.7,0.035],[51.9,0.02],[52.1,0.045],[52.3,0.015],[52.5,0.03],[52.7,0.012],[52.9,0.04],[53.1,0.018],[53.3,0.03],[53.5,0.012],[53.7,0.05],[53.9,0.02],[54.1,0.03],[54.3,0.012],[54.5,0.025],[54.7,0.01],[54.9,0.025],[55.1,0.012],[55.3,0.025],[55.5,0.01],[55.7,0.025],[55.9,0.015],[56.1,0.025],[56.2,0.01],[56.3,1.3],
[56.5,2.2],[56.7,1.7],[56.9,2.0],[57.1,1.3],[57.3,1.6],[57.5,1.2],[57.7,1.7],[57.9,1.4],[58.1,1.8],[58.3,1.3],[58.5,1.9],[58.7,1.5],[58.9,2.0],[59.1,1.6],[59.3,2.1],[59.5,1.6],[59.7,2.3],[59.9,1.8],[60.1,2.5],[60.3,1.7],[60.5,2.3],[60.7,1.5],[60.9,0.33],[61.1,1.5],[61.3,2.4],[61.5,1.8],[61.7,2.1],[61.9,0.67],[62.1,1.2],[62.3,0.15],[62.4,0.02],
[62.6,0.04],[62.8,0.015],[63.0,0.05],[63.2,0.012],[63.4,0.035],[63.6,0.01],[63.8,0.03],[64.0,0.012],[64.2,0.025],[64.4,0.01],[64.6,0.03],[64.8,0.012],[65.0,0.025],[65.2,0.01],[65.4,0.03],[65.6,0.013],[65.8,0.035],[66.0,0.01],[66.2,0.03],[66.4,0.012],[66.6,0.035],[66.8,0.015],[67.0,0.045],[67.2,0.012],[67.4,0.04],[67.6,0.018],[67.8,0.05],[68.0,0.02],[68.2,0.045],[68.3,1.4],
[68.5,2.3],[68.7,1.6],[68.9,2.0],[69.1,1.2],[69.3,1.8],[69.5,1.4],[69.7,1.9],[69.9,1.5],[70.1,2.1],[70.3,1.7],[70.5,2.3],[70.7,1.5],[70.9,1.9],[71.1,1.2],[71.3,1.7],[71.5,1.0],[71.7,1.5],[71.9,0.6],[72.1,1.2],[72.3,0.23],[72.5,0.8],[72.7,1.5],[72.9,0.6],[73.1,0.25],[73.3,1.4],[73.5,2.5],[73.7,1.6],[73.9,2.0],[74.1,1.3],[74.2,0.2],[74.4,0.07],
[74.6,0.05],[74.8,0.03],[75.0,0.045],[75.2,0.02],[75.4,0.04],[75.6,0.015],[75.8,0.035],[76.0,0.01],[76.2,0.03],[76.4,0.015],[76.6,0.05],[76.8,0.012],[77.0,0.04],[77.2,0.01],[77.4,0.03],[77.6,0.015],[77.8,0.025],[78.0,0.01],[78.2,0.03],[78.4,0.012],[78.6,0.025],[78.8,0.01],[79.0,0.03],[79.2,0.012],[79.4,0.035],[79.6,0.015],[79.8,0.03],[80.0,0.012],[80.2,0.04],[80.4,0.018],[80.6,0.035],[80.8,0.01],[81.0,0.045],[81.2,1.5],
[81.4,2.4],[81.6,1.6],[81.8,2.0],[82.0,1.4],[82.2,1.9],[82.4,1.5],[82.6,2.0],[82.8,1.4],[83.0,1.8],[83.2,1.3],[83.4,2.0],[83.6,1.5],[83.8,1.9],[84.0,1.4],[84.2,1.8],[84.4,0.53],[84.6,1.3],[84.8,1.9],[85.0,1.4],[85.2,1.7],[85.4,1.2],[85.6,1.8],[85.8,1.4],[86.0,2.0],[86.2,1.5],[86.4,1.8],[86.6,1.6],[86.8,1.7],
[89.7,0.018],[89.9,0.01],[90.1,0.025],[90.3,0.01],[90.5,0.028],[90.7,0.012],[90.9,0.02],[91.1,0.01],[91.3,0.025],[91.5,0.01],[91.7,0.018],[91.9,0.01],[92.1,0.015],[92.3,0.01],[92.5,0.02],[92.7,0.01],[92.9,0.015],[93.1,0.01],[93.3,0.015],[93.5,0.01],[93.7,0.015],[93.9,0.01],[94.1,0.015],[94.3,0.01],[94.5,0.015],[94.7,0.01],[94.9,0.015],[95.1,0.01],[95.3,0.015],[95.5,0.01],[95.7,0.015],[95.9,0.01],[96.1,1.3],
[96.3,2.2],[96.5,1.0],[96.7,1.9],[96.9,0.8],[97.1,1.5],[97.3,2.0],[97.5,1.2],[97.7,1.8],[97.9,0.7],[98.1,0.4],[98.3,0.2],[98.5,0.065],[98.7,1.0],[98.9,2.1],[99.1,1.5],[99.3,2.0],[99.5,1.2],[99.7,1.8],[99.9,1.3],[100.1,2.1],[100.3,1.5],[100.5,2.0],[100.7,1.1],[100.9,1.8],[101.1,1.4],[101.3,1.9],[101.5,0.5],[101.7,1.3],[101.9,0.6],[102.1,0.4],[102.2,0.1],[102.3,0.03],
[102.5,0.015],[102.7,0.04],[102.9,0.01],[103.1,0.03],[103.3,0.015],[103.5,0.025],[103.7,0.01],[103.9,0.03],[104.1,0.012],[104.3,0.02],[104.5,0.01],[104.7,0.025],[104.9,0.012],[105.1,0.03],[105.3,0.01],[105.5,0.022],[105.7,0.012],[105.9,0.03],[106.1,0.01],[106.3,0.025],[106.5,0.012],[106.7,0.035],[106.9,0.01],[107.1,0.025],[107.3,0.012],[107.5,0.03],[107.7,0.015],[107.9,0.025],[108.1,0.01],[108.3,1.4],
[108.5,2.3],[108.7,1.3],[108.9,2.0],[109.1,1.0],[109.3,1.8],[109.5,1.2],[109.7,2.0],[109.9,0.9],[110.1,1.6],[110.3,2.2],[110.5,1.5],[110.7,2.4],[110.9,1.6],[111.1,2.2],[111.3,1.5],[111.5,2.0],[111.7,1.1],[111.9,0.5],[112.1,1.4],[112.3,2.8],[112.5,2.0],[112.7,2.4],[112.9,1.6],[113.1,2.1],[113.3,1.4],[113.5,1.0],[113.7,1.5],[113.9,1.2],[114.1,2.0],[114.3,1.4],[114.4,0.2],[114.5,0.03],
[114.7,0.015],[114.9,0.01],[115.1,0.015],[115.3,0.01],[115.5,0.015],[115.7,0.01],[115.9,0.015],[116.1,0.01],[116.3,0.015],[116.5,0.01],[116.7,0.015],[116.9,0.01],[117.1,0.015],[117.3,0.01],[117.5,0.015],[117.7,0.01],[117.9,0.02],[118.1,0.01],[118.3,0.015],[118.5,0.01],[118.7,0.025],[118.9,0.015],[119.1,0.03],[119.3,0.012],[119.5,0.02],[119.7,0.015],[119.9,0.018],[120.1,0.01],[120.2,0.1],[120.3,1.0],
[120.5,1.5],[120.7,1.2],[120.9,1.6],[121.1,1.0],[121.3,1.5],[121.5,0.7],[121.7,1.2],[121.9,0.6],[122.1,0.45],[122.3,1.3],[122.5,1.7],[122.7,1.1],[122.9,1.5],[123.1,0.9],[123.3,1.3],[123.5,0.55],[123.7,1.2],[123.9,1.6],[124.1,1.0],[124.3,1.5],[124.5,1.2],[124.7,1.8],[124.9,1.3],[125.1,1.9],[125.3,1.4],[125.5,1.7],[125.7,1.1],[125.9,1.4],[126.1,0.8],[126.3,0.05],
[126.5,0.01],[126.7,0.015],[126.9,0.01],[127.1,0.015],[127.3,0.01],[127.5,0.015],[127.7,0.012],[127.9,0.015],[128.1,0.01],[128.3,0.015],[128.5,0.01],[128.7,0.015],[128.9,0.012],[129.1,0.02],[129.3,0.015],[129.5,0.04],[129.7,0.015],[129.9,0.025],[130.1,0.01],[130.3,0.015],[130.5,0.01],[130.7,0.01],[130.9,0.015],[131.1,0.01],[131.3,0.01],[131.5,0.015],[131.7,0.01],[131.9,0.01],[132.1,0.6],
[132.3,1.8],[132.5,0.7],[132.7,1.5],[132.9,0.2],[133.1,0.035],[133.3,0.3],[133.5,1.2],[133.7,1.8],[133.9,0.5],[134.1,1.6],[134.3,0.9],[134.5,0.3],[134.7,0.1],[134.9,1.5],[135.1,0.08],[135.3,1.2],[135.5,1.8],[135.7,0.4],[135.9,1.6],[136.1,0.9],[136.3,1.7],[136.5,0.5],[136.7,0.15],[136.9,0.035],[137.1,1.2],[137.3,1.8],[137.5,0.9],[137.7,0.5],[137.9,0.2],[138.1,0.05],
[138.3,0.01],[138.6,0.01],[138.8,0.015],[138.9,0.01],[139.3,0.01],[139.7,0.02],[139.8,0.01],[140.5,0.01],[141.5,0.01],[141.7,0.017],[141.8,0.01],[142.6,0.01],[142.7,0.02],[142.8,0.01],[143.3,0.01],[143.5,0.02],[143.6,0.01],[143.9,0.018],[144.1,0.01],[144.2,1.2],
[144.4,2.8],[144.6,1.0],[144.8,1.8],[145.0,0.8],[145.2,1.5],[145.4,0.17],[145.6,1.2],[145.8,2.0],[146.0,0.6],[146.2,1.8],[146.4,0.9],[146.6,2.3],[146.8,1.0],[147.0,0.02],[147.2,1.6],[147.4,2.5],[147.6,1.2],[147.8,2.2],[148.0,0.8],[148.2,1.9],[148.4,0.4],[148.6,1.5],[148.8,0.1],[149.0,1.2],[149.2,2.2],[149.4,1.4],[149.6,1.9],[149.8,1.0],[150.0,1.6],[150.2,0.7],[150.4,0.03],
[150.6,0.012],[150.8,0.035],[151.0,0.01],[151.2,0.045],[151.4,0.015],[151.6,0.05],[151.8,0.018],[152.0,0.04],[152.2,0.012],[152.4,0.05],[152.6,0.02],[152.8,0.055],[153.0,0.015],[153.2,0.045],[153.4,0.02],[153.6,0.05],[153.8,0.012],[154.0,0.04],[154.2,0.018],[154.4,0.055],[154.6,0.015],[154.8,0.04],[155.0,0.012],[155.2,0.045],[155.4,0.02],[155.6,0.04],[155.8,0.025],[156.0,0.15],[156.2,0.35],[156.3,1.4],
[156.5,2.0],[156.7,1.5],[156.9,1.8],[157.1,1.0],[157.3,1.6],[157.5,1.3],[157.7,1.9],[157.9,1.3],[158.1,1.7],[158.3,1.0],[158.5,1.8],[158.7,1.4],[158.9,2.0],[159.1,0.6],[159.3,0.23],[159.5,1.2],[159.7,2.0],[159.9,1.5],[160.1,2.2],[160.3,1.4],[160.5,1.9],[160.7,1.1],[160.9,1.6],[161.1,0.9],[161.3,1.8],[161.5,1.2],[161.7,1.5],[161.9,0.8],[162.1,0.4],[162.3,0.05],
[162.5,0.02],[162.7,0.045],[162.9,0.015],[163.1,0.04],[163.3,0.01],[163.5,0.035],[163.7,0.015],[163.9,0.03],[164.1,0.01],[164.3,0.03],[164.5,0.012],[164.7,0.04],[164.9,0.02],[165.1,0.045],[165.3,0.14],[165.5,0.02],[165.7,0.035],[165.9,0.01],[166.1,0.03],[166.3,0.012],[166.5,0.025],[166.7,0.01],[166.9,0.02]];

// ---- chart ----
const FONT = '"Liberation Serif", "Times New Roman", serif';
const xMajor = xTickLabels.map((_, i) => i * xMajorStep);
const xMinor = [];
for (let i = 0; i * xMajorStep / 5 <= xMax + 1e-6; i++) xMinor.push(+(i * xMajorStep / 5).toFixed(4));
const yMajor = yTickLabels.map(Number);
const yMinor = [];
for (let e = -2; e < 8; e++) for (let k = 2; k <= 9; k++) yMinor.push(+(k * Math.pow(10, e)).toPrecision(3));

const chart = echarts.init(document.getElementById('c'), null, { renderer: 'canvas' });
const colors = ['#808080', '#3366FF', '#FF0000'];
const widths = [2.5, 2, 2.5];
const legendPos = [307, 612, 965];

chart.setOption({
  animation: false,
  backgroundColor: '#ffffff',
  grid: { left: 162, top: 17, right: 0, bottom: 87, outerBoundsMode: 'none', containLabel: false },
  legend: seriesNames.map((n, i) => ({
    data: [n], left: legendPos[i], top: 33, padding: 0,
    icon: 'rect', itemWidth: 41, itemHeight: 2, itemGap: 0, selectedMode: false,
    textStyle: { fontFamily: FONT, fontSize: 24, color: '#000' }
  })),
  xAxis: [{
    type: 'value', min: 0, max: xMax, interval: xMajorStep,
    axisLine: { show: true, lineStyle: { color: '#000', width: 1 } },
    axisTick: { show: true, length: 5, customValues: xMinor, lineStyle: { color: '#000', width: 1 } },
    axisLabel: { customValues: xMajor, margin: 23, fontFamily: FONT, fontSize: 24, color: '#000', hideOverlap: false,
      formatter: v => xTickLabels[Math.round(v / xMajorStep)] || '' },
    splitLine: { show: false }
  }, {
    type: 'value', min: 0, max: xMax, position: 'bottom',
    axisLine: { show: false },
    axisTick: { show: true, length: 8, customValues: xMajor, lineStyle: { color: '#000', width: 1 } },
    axisLabel: { show: false }, splitLine: { show: false }
  }],
  yAxis: [{
    type: 'log', logBase: 10, min: 0.01, max: 1e8, splitNumber: 10,
    axisLine: { show: true, lineStyle: { color: '#000', width: 1 } },
    axisTick: { show: true, length: 7, customValues: yMajor, lineStyle: { color: '#000', width: 1 } },
    axisLabel: { customValues: yMajor, margin: 18, fontFamily: FONT, fontSize: 24, color: '#000',
      formatter: v => yTickLabels[Math.round(Math.log10(v)) + 2] || '' },
    splitLine: { show: true, lineStyle: { color: '#555555', width: 1 } }
  }, {
    type: 'log', logBase: 10, min: 0.01, max: 1e8, position: 'left',
    axisLine: { show: false },
    axisTick: { show: true, length: 4, customValues: yMinor, lineStyle: { color: '#000', width: 1 } },
    axisLabel: { show: false }, splitLine: { show: false }
  }],
  series: [co2, cpc, no2].map((d, i) => ({
    name: seriesNames[i], type: 'line', data: d, xAxisIndex: 0, yAxisIndex: 0,
    symbol: 'none', showSymbol: false, clip: true,
    lineStyle: { color: colors[i], width: widths[i] }, itemStyle: { color: colors[i] },
    emphasis: { disabled: true }, z: 2 + i
  })),
  graphic: [
    { type: 'text', left: 200, top: 428, style: { text: 'Avg Exh Temp 328 \u00B1 13.2 C; Ambient 30.4 \u00B1 1.4', fontFamily: FONT, fontSize: 24, fill: '#000' } },
    { type: 'text', left: 776, top: 428, style: { text: 'No DR or particle loss correction', fontFamily: FONT, fontSize: 24, fill: '#000' } },
    { type: 'text', x: 698, y: 730, style: { text: 'Time', fontFamily: FONT, fontSize: 26, fontWeight: 'bold', fill: '#000', align: 'center', verticalAlign: 'middle' } },
    { type: 'text', x: 30, y: 337, rotation: Math.PI / 2, style: { text: 'Concentration, part/cm\u00B3 or ppm', fontFamily: FONT, fontSize: 26, fontWeight: 'bold', fill: '#000', align: 'center', verticalAlign: 'middle' } }
  ]
});
</script>
</body></html>
